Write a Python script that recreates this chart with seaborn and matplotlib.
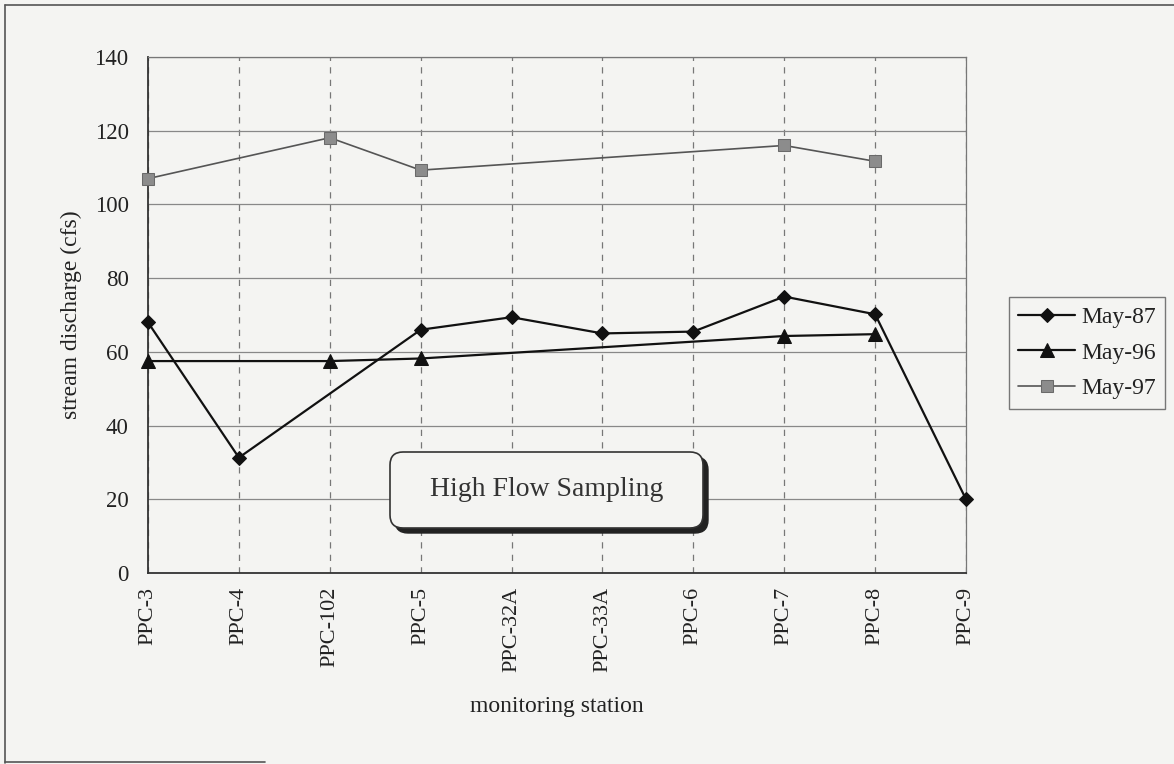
import numpy as np
import pandas as pd
import matplotlib
matplotlib.use("Agg")
import matplotlib.pyplot as plt
import seaborn as sns
from matplotlib.patches import FancyBboxPatch
from matplotlib.lines import Line2D
from matplotlib.transforms import IdentityTransform

# ---- data ----
stations = ["PPC-3", "PPC-4", "PPC-102", "PPC-5", "PPC-32A", "PPC-33A",
            "PPC-6", "PPC-7", "PPC-8", "PPC-9"]
may87 = [68, 31.3, np.nan, 66, 69.4, 65, 65.5, 75, 70.2, 20]
may96 = [57.5, np.nan, 57.5, 58.2, np.nan, np.nan, np.nan, 64.3, 64.8, np.nan]
may97 = [107, np.nan, 118.1, 109.3, np.nan, np.nan, np.nan, 116, 111.7, np.nan]
series_names = ["May-87", "May-96", "May-97"]
y_ticks = [0, 20, 40, 60, 80, 100, 120, 140]

BG = "#f4f4f2"
sns.set_theme(style="white")
plt.rcParams["font.family"] = ["Liberation Serif", "DejaVu Serif"]
plt.rcParams["text.color"] = "#222222"

W, H = 1174, 764
fig = plt.figure(figsize=(W / 100, H / 100), dpi=100, facecolor=BG)
L, R, T, B = 148, 966, 57, 573
ax = fig.add_axes([L / W, 1 - B / H, (R - L) / W, (B - T) / H], facecolor=BG)

x_pos = np.arange(len(stations))
styles = {
    "May-87": dict(marker="D", color="#111111", markersize=7.5, lw=1.6,
                   mfc="#111111", mec="#111111"),
    "May-96": dict(marker="^", color="#111111", markersize=10, lw=1.6,
                   mfc="#111111", mec="#111111"),
    "May-97": dict(marker="s", color="#555555", markersize=8.5, lw=1.2,
                   mfc="#8c8c8c", mec="#6a6a6a"),
}
for name, vals in zip(series_names, [may87, may96, may97]):
    df = pd.DataFrame({"x": x_pos, "y": vals}).dropna()
    st = styles[name]
    sns.lineplot(data=df, x="x", y="y", ax=ax, color=st["color"],
                 marker=st["marker"], markersize=st["markersize"],
                 linewidth=st["lw"], markerfacecolor=st["mfc"],
                 markeredgecolor=st["mec"], label=name, zorder=3,
                 clip_on=False)

ax.set_xlim(0, len(stations) - 1)
ax.set_ylim(0, 140)
ax.set_xticks(x_pos)
ax.set_xticklabels(stations, rotation=90, fontsize=16)
ax.set_yticks(y_ticks)
ax.set_yticklabels([str(v) for v in y_ticks], fontsize=16.5)
ax.tick_params(axis="both", direction="out", length=5, width=1, color="#333333",
               colors="#222222")
ax.tick_params(axis="y", pad=9)
ax.tick_params(axis="x", pad=5)

# gridlines
ax.yaxis.grid(True, color="#888888", lw=0.9, ls="-")
ax.xaxis.grid(True, color="#777777", lw=0.9, ls=(0, (5, 5)))
ax.set_axisbelow(True)

for s in ["left", "bottom"]:
    ax.spines[s].set_color("#333333")
    ax.spines[s].set_linewidth(1.3)
for s in ["top", "right"]:
    ax.spines[s].set_color("#777777")
    ax.spines[s].set_linewidth(0.9)

ax.set_ylabel("stream discharge (cfs)", fontsize=17, color="#222222")
ax.yaxis.set_label_coords(-0.081, 0.5)
ax.set_xlabel("monitoring station", fontsize=17, color="#222222")
ax.xaxis.set_label_coords(0.5, -0.238)

# legend
leg = ax.legend(loc="upper left", bbox_to_anchor=(1009 / W, 1 - 297 / H),
                bbox_transform=fig.transFigure, borderaxespad=0,
                fontsize=17, frameon=True, fancybox=False, framealpha=1,
                facecolor=BG, edgecolor="#777777", handlelength=2.4,
                handletextpad=0.25, labelspacing=0.6, borderpad=0.4)
leg.get_frame().set_linewidth(1.0)

# text box with shadow (pixel coordinates, origin bottom-left)
bx0, bx1, by0, by1 = 390, 703, H - 528, H - 452
shadow = FancyBboxPatch((bx0 + 5, by0 - 5), bx1 - bx0, by1 - by0,
                        boxstyle="round,pad=0,rounding_size=13",
                        transform=IdentityTransform(), facecolor="#222222",
                        edgecolor="#222222", lw=1, zorder=5)
box = FancyBboxPatch((bx0, by0), bx1 - bx0, by1 - by0,
                     boxstyle="round,pad=0,rounding_size=13",
                     transform=IdentityTransform(), facecolor=BG,
                     edgecolor="#333333", lw=1.2, zorder=6)
fig.add_artist(shadow)
fig.add_artist(box)
fig.text((bx0 + bx1) / 2 / W, (by0 + by1) / 2 / H, "High Flow Sampling",
         ha="center", va="center", fontsize=20, color="#333333", zorder=7)

# outer chart border fragments
fig.add_artist(Line2D([5 / W, 1], [1 - 5 / H, 1 - 5 / H], transform=fig.transFigure,
                      color="#555555", lw=1.2))
fig.add_artist(Line2D([5 / W, 5 / W], [1 - 5 / H, 1 - 763 / H], transform=fig.transFigure,
                      color="#555555", lw=1.2))
fig.add_artist(Line2D([5 / W, 265 / W], [1 - 762 / H, 1 - 762 / H], transform=fig.transFigure,
                      color="#555555", lw=1.2))

fig.savefig("out.png", dpi=100, facecolor=BG)
